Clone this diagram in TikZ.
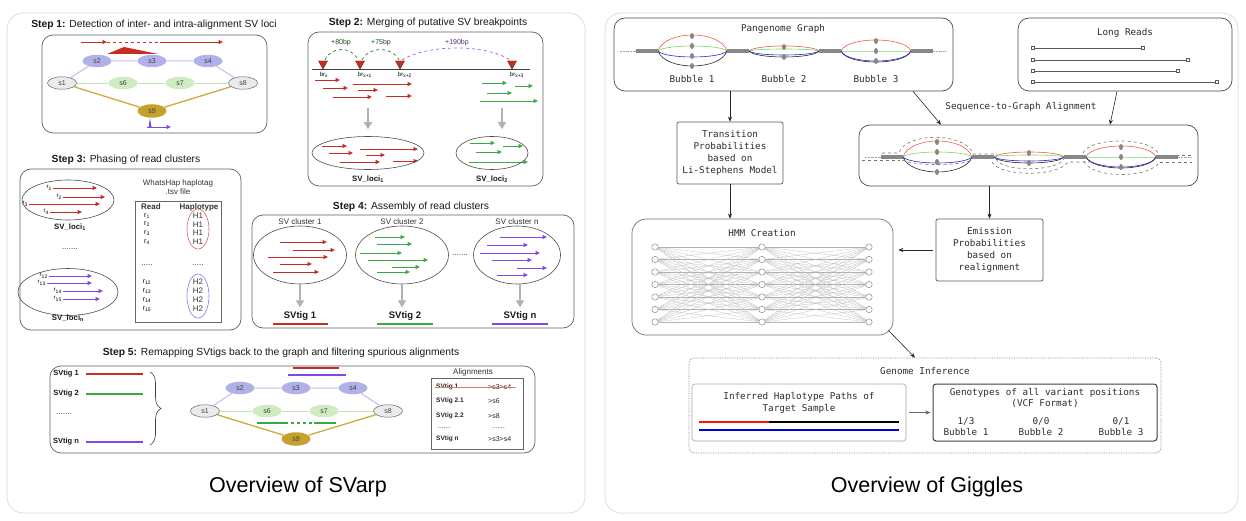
\documentclass[tikz,border=0pt]{standalone}
\usepackage{fontspec}
\setmainfont{Liberation Sans}
\newfontfamily\monof{DejaVu Sans Mono}
\usetikzlibrary{shapes.geometric,arrows.meta,calc,decorations.pathreplacing}
\definecolor{panelgray}{RGB}{226,226,226}
\definecolor{svred}{RGB}{200,45,35}
\definecolor{svgreen}{RGB}{60,168,65}
\definecolor{svpurple}{RGB}{128,72,235}
\definecolor{lav}{RGB}{178,176,232}
\definecolor{lavedge}{RGB}{192,190,238}
\definecolor{lgreen}{RGB}{206,236,192}
\definecolor{lgedge}{RGB}{190,228,175}
\definecolor{gold}{RGB}{198,160,45}
\definecolor{goldedge}{RGB}{208,172,62}
\definecolor{pgred}{RGB}{240,90,70}
\definecolor{pggreen}{RGB}{120,215,100}
\definecolor{pgblue}{RGB}{40,40,210}
\definecolor{segray}{RGB}{135,135,135}
\definecolor{arrgray}{RGB}{178,178,178}
\definecolor{txtdark}{RGB}{45,45,45}
\newcommand\ftitle{\fontsize{10.3}{12}\selectfont}
\newcommand\fnode{\fontsize{7}{8}\selectfont}
\newcommand\fsm{\fontsize{6.5}{7.5}\selectfont}
\newcommand\fbr{\fontsize{6}{7}\selectfont}
\newcommand\fpl{\fontsize{7}{8}\selectfont}
\newcommand\flab{\fontsize{8}{9.5}\selectfont}
\newcommand\fsvt{\fontsize{9.5}{11}\selectfont}
\newcommand\fsvl{\fontsize{7.8}{9}\selectfont}
\newcommand\fmono{\monof\fontsize{9.3}{12}\selectfont}
\newcommand\fbig{\fontsize{21.5}{25}\selectfont}
\newcommand\bub[7]{%
  \draw[pgred,line width=.6pt] (#1,0) .. controls ({#1+#7},{#3*4/3}) and ({#2-#7},{#3*4/3}) .. (#2,0);
  \draw[pggreen,line width=.6pt] (#1,0) .. controls ({#1+#7},{#4*4/3}) and ({#2-#7},{#4*4/3}) .. (#2,0);
  \draw[black!85,line width=.6pt] (#1,0) .. controls ({#1+#7},{#6*4/3}) and ({#2-#7},{#6*4/3}) .. (#2,0);
  \draw[pgblue,line width=.6pt] (#1,0) .. controls ({#1+#7},{#5*4/3}) and ({#2-#7},{#5*4/3}) .. (#2,0);
}
\newcommand\gdot[2]{\fill[segray] (#1,#2) ellipse (2pt and 3pt);}
\newcommand\pangraph{%
  \draw[black!35,densely dotted,line width=.4pt] (620,0) -- (636,0) (933,0) -- (946,0);
  \bub{658}{727}{-16}{-5}{6}{15}{7}
  \bub{749}{819}{-5}{-2}{4}{6}{6}
  \bub{841}{911}{-11}{0}{10}{11}{6}
  \foreach \a/\b in {636/658,727/749,819/841,911/933} \draw[segray,line width=3.2pt] (\a,0) -- (\b,0);
  \gdot{692}{-15}\gdot{692}{-5}\gdot{692}{5}\gdot{692}{15}
  \gdot{784}{-4}\gdot{784}{6}
  \gdot{876}{-10}\gdot{876}{0}\gdot{876}{10}
}
\begin{document}
\begin{tikzpicture}[x=1pt,y=-1pt,
  panel/.style={draw=panelgray,line width=1pt,rounded corners=16pt},
  stepbox/.style={draw=black!62,line width=0.7pt,rounded corners=11pt,inner sep=0pt},
  ttl/.style={font=\ftitle,inner sep=0pt,text=black!90},
  gn/.style={ellipse,inner sep=0pt,minimum width=29pt,minimum height=12.5pt,font=\fnode,text=black!75},
  gend/.style={gn,fill=black!8,draw=black!60,line width=0.5pt},
  glav/.style={gn,fill=lav},
  ggrn/.style={gn,fill=lgreen},
  ggold/.style={gn,fill=gold,minimum height=13.5pt},
  elav/.style={lavedge,line width=1pt},
  egrn/.style={lgedge,line width=0.9pt},
  egold/.style={goldedge,line width=1.3pt},
  rdar/.style={svred,line width=0.8pt,-{Triangle[length=4.5pt,width=4pt]}},
  grar/.style={svgreen,line width=0.8pt,-{Triangle[length=4.5pt,width=4pt]}},
  puar/.style={svpurple,line width=0.8pt,-{Triangle[length=4.5pt,width=4pt]}},
  bigar/.style={arrgray,line width=2.2pt,-{Triangle[length=7pt,width=8pt]}},
  clus/.style={ellipse,draw=black!70,line width=0.6pt,inner sep=0pt},
  lbl/.style={inner sep=0pt,font=\flab,text=black!80},
  blbl/.style={inner sep=0pt,font=\fsvl\bfseries,text=black!90},
  sm/.style={inner sep=0pt,font=\fsm,text=black!85},
  rbox/.style={draw=black!70,line width=0.7pt,rounded corners=11pt,inner sep=0pt},
  sbox/.style={draw=black!65,line width=0.7pt,rounded corners=2pt,inner sep=0pt,font=\fmono,text=txtdark,align=center},
  mono/.style={inner sep=0pt,font=\fmono,text=txtdark,align=center},
  arr/.style={black!85,line width=0.6pt,-{Stealth[length=5pt,width=4pt]}},
  hmmn/.style={circle,draw=black!55,fill=white,line width=0.4pt,minimum size=6.4pt,inner sep=0pt},
  hmme/.style={black!30,line width=0.2pt}
]
\useasboundingbox (0,0) rectangle (1246,521);
\fill[white] (0,0) rectangle (1246,521);
\draw[panel] (7,13) rectangle (585,513);
\draw[panel] (605,13) rectangle (1238,513);
\node[font=\fbig,inner sep=0pt] (ov1) at (298,487) {Overview of SVarp};
\node[font=\fbig,inner sep=0pt] (ov2) at (927,487) {Overview of Giggles};

% ---------------- Step 1
\node[stepbox,minimum width=225pt,minimum height=98pt] (box1) at (154.5,84) {};
\node[ttl] (t1) at (154,25) {\textbf{Step 1:} Detection of inter- and intra-alignment SV loci};
\node[gend] (a1) at (62,83) {s1};
\node[glav] (a2) at (97,61) {s2};
\node[glav] (a3) at (152,61) {s3};
\node[glav] (a4) at (208,61) {s4};
\node[ggrn] (a6) at (123,83) {s6};
\node[ggrn] (a7) at (180,83) {s7};
\node[gend] (a8) at (243,83) {s8};
\node[ggold] (a9) at (152,111) {s9};
\draw[elav] (a1) -- (a2) (a2) -- (a3) (a3) -- (a4) (a4) -- (a8);
\draw[egrn] (a1) -- (a6) (a6) -- (a7) (a7) -- (a8);
\draw[egold] (a1) -- (a9) (a9) -- (a8);
\draw[rdar] (81,42) -- (107,42);
\draw[svred,line width=0.8pt,dashed] (107,42) -- (160,42);
\draw[rdar] (160,42) -- (223,42);
\fill[svred] (107,54) -- (124,47) -- (158,54) -- cycle;
\fill[svpurple] (148.5,127) -- (150,118) -- (151.5,127) -- cycle;
\draw[puar] (147,127) -- (171,127);

% ---------------- Step 2
\node[stepbox,minimum width=235pt,minimum height=154pt] (box2) at (425.5,109) {};
\node[ttl] (t2) at (428,23) {\textbf{Step 2:} Merging of putative SV breakpoints};
\draw[black!75,line width=0.9pt] (312,69) -- (530,69);
\foreach \x in {323,360,400,512}
  \filldraw[fill=svred,draw=svred!60!black,line width=0.4pt] ({\x-4.5},61) -- ({\x+4.5},61) -- (\x,69) -- cycle;
\node[font=\fbr,inner sep=0pt] (br0) at (324,75) {br\textsubscript{x}};
\node[font=\fbr,inner sep=0pt] (br1) at (365,75) {br\textsubscript{x+1}};
\node[font=\fbr,inner sep=0pt] (br2) at (405,75) {br\textsubscript{x+2}};
\node[font=\fbr,inner sep=0pt] (br3) at (517,75) {br\textsubscript{x+3}};
\draw[svgreen!75!black,dashed,line width=0.7pt] (325,60) .. controls (331,46) and (352,46) .. (358,60);
\draw[svgreen!75!black,dashed,line width=0.7pt] (362,60) .. controls (369,46) and (392,46) .. (399,60);
\draw[svpurple!85,dashed,line width=0.7pt] (402,60) .. controls (428,44) and (486,44) .. (510,60);
\node[inner sep=0pt,font=\fpl,text=svgreen!45!black] (l80) at (341,43) {+80bp};
\node[inner sep=0pt,font=\fpl,text=svgreen!45!black] (l75) at (381,43) {+75bp};
\node[inner sep=0pt,font=\fpl,text=svpurple!60!black] (l190) at (457,43) {+190bp};
\foreach \a/\b/\y in {315/340/80,323/348/88,333/372/97,353/412/84,358/378/90,386/412/96,322/347/146,329/353/153,340/380/162,360/418/149,366/385/155,393/418/161}
  \draw[rdar] (\a,\y) -- (\b,\y);
\foreach \a/\b/\y in {482/507/83,515/533/86,487/512/93,480/538/101,470/495/143,503/523/146,476/502/152,469/528/162}
  \draw[grar] (\a,\y) -- (\b,\y);
\node[clus,minimum width=112pt,minimum height=33pt] (c2a) at (368,153) {};
\node[clus,minimum width=72pt,minimum height=33pt] (c2b) at (492,153) {};
\coordinate (g2a) at (368,108);
\coordinate (g2b) at (502,108);
\draw[bigar,shorten >=7pt] (g2a) -- (g2a |- c2a.north);
\draw[bigar,shorten >=7pt] (g2b) -- (g2b |- c2b.north);
\node[blbl] (sl1) at (368,179) {SV\_loci\textsubscript{1}};
\node[blbl] (sl2) at (492,179) {SV\_loci\textsubscript{2}};

% ---------------- Step 3
\node[stepbox,minimum width=221pt,minimum height=161pt] (box3) at (130.5,249.5) {};
\node[ttl] (t3) at (126,160) {\textbf{Step 3:} Phasing of read clusters};
\node[clus,minimum width=92pt,minimum height=40pt] (c3a) at (68,200) {};
\foreach \a/\b/\y/\n in {53/97/188/1,63/105/197/2,29/100/204/3,50/82/212/4}{
  \draw[rdar] (\a,\y) -- (\b,\y);
  \node[font=\fbr,inner sep=0pt,anchor=east] (ra\n) at ({\a-1},\y) {r\textsubscript{\n}};}
\node[blbl] (sl3a) at (70,227) {SV\_loci\textsubscript{1}};
\node[lbl] (dots3) at (70,249) {.......};
\node[clus,minimum width=100pt,minimum height=47pt] (c3b) at (68,292) {};
\foreach \a/\b/\y/\n in {49/92/276/12,47/92/283/13,63/103/291/14,63/100/299/15}{
  \draw[puar] (\a,\y) -- (\b,\y);
  \node[font=\fbr,inner sep=0pt,anchor=east] (ra\n) at ({\a-1},\y) {r\textsubscript{\n}};}
\node[blbl] (sl3b) at (68,318) {SV\_loci\textsubscript{n}};
\node[lbl,align=center] (wh) at (178,187) {WhatsHap haplotag\\.tsv file};
\node[draw=black!60,line width=0.8pt,minimum width=86pt,minimum height=121pt,inner sep=0pt] (tab) at (178,261.5) {};
\node[lbl,font=\flab\bfseries] (hr) at (151,207) {Read};
\node[lbl,font=\flab\bfseries] (hh) at (199,207) {Haplotype};
\foreach \y/\n in {216/1,224.5/2,233/3,242/4}{
  \node[font=\fpl,inner sep=0pt] (tr\n) at (147,\y) {r\textsubscript{\n}};
  \node[lbl] (th\n) at (198,\y) {H1};}
\node[lbl] (td1) at (147,265) {.....};
\node[lbl] (td2) at (198,265) {.....};
\foreach \y/\n in {282/12,291/13,300/14,309/15}{
  \node[font=\fpl,inner sep=0pt] (tr\n) at (147,\y) {r\textsubscript{\n}};
  \node[lbl] (th\n) at (198,\y) {H2};}
\node[ellipse,draw=svred!75,line width=0.6pt,minimum width=22pt,minimum height=40pt,inner sep=0pt] (hg1) at (198,229) {};
\node[ellipse,draw=svpurple!80,line width=0.6pt,minimum width=22pt,minimum height=44pt,inner sep=0pt] (hg2) at (198,296) {};

% ---------------- Step 4
\node[stepbox,minimum width=322pt,minimum height=113pt] (box4) at (413,271.5) {};
\node[ttl] (t4) at (411,207) {\textbf{Step 4:} Assembly of read clusters};
\node[lbl] (k1) at (300,222) {SV cluster 1};
\node[lbl] (k2) at (402,222) {SV cluster 2};
\node[lbl] (k3) at (517,222) {SV cluster n};
\node[clus,minimum width=93pt,minimum height=58pt] (c41) at (300,255) {};
\node[clus,minimum width=93pt,minimum height=58pt] (c42) at (402,255) {};
\node[clus,minimum width=87pt,minimum height=58pt] (c43) at (517,255) {};
\node[lbl] (dots4) at (460,255) {.......};
\foreach \a/\b/\y in {280/327/242,293/335/250,268/328/257,280/312/264,273/319/272}
  \draw[rdar] (\a,\y) -- (\b,\y);
\foreach \a/\b/\y in {375/405/237,377/412/244,360/402/253,368/428/260,392/420/267,377/410/272}
  \draw[grar] (\a,\y) -- (\b,\y);
\foreach \a/\b/\y in {500/547/237,487/528/245,480/540/253,492/532/260,517/547/268,497/528/275}
  \draw[puar] (\a,\y) -- (\b,\y);
\node[blbl,font=\fsvt\bfseries] (v1) at (300,316) {SVtig 1};
\node[blbl,font=\fsvt\bfseries] (v2) at (405,316) {SVtig 2};
\node[blbl,font=\fsvt\bfseries] (v3) at (520,316) {SVtig n};
\draw[bigar,shorten >=4pt] (c41.south) -- (v1.north);
\draw[bigar,shorten >=4pt] (c42.south) -- (c42.south |- v2.north);
\draw[bigar,shorten >=4pt] (c43.south -| v3.north) -- (v3.north);
\draw[svred,line width=2.2pt] (273,324) -- (328,324);
\draw[svgreen,line width=2.2pt] (377,324) -- (433,324);
\draw[svpurple,line width=2.2pt] (492,324) -- (548,324);

% ---------------- Step 5
\node[stepbox,minimum width=485pt,minimum height=87pt] (box5) at (292.5,409.5) {};
\node[ttl] (t5) at (281,353) {\textbf{Step 5:} Remapping SVtigs back to the graph and filtering spurious alignments};
\node[blbl,font=\fontsize{7.5}{9}\selectfont\bfseries] (w1) at (66,374) {SVtig 1};
\node[blbl,font=\fontsize{7.5}{9}\selectfont\bfseries] (w2) at (66,394) {SVtig 2};
\node[lbl] (w3) at (64,414) {.......};
\node[blbl,font=\fontsize{7.5}{9}\selectfont\bfseries] (w4) at (66,442) {SVtig n};
\draw[svred,line width=2pt] (86,374) -- (143,374);
\draw[svgreen,line width=2pt] (86,394) -- (143,394);
\draw[svpurple,line width=2pt] (86,442) -- (143,442);
\draw[black!75,line width=0.6pt,decorate,decoration={brace,amplitude=11pt}] (150,372) -- (150,445);
\node[gend] (b1) at (205,411) {s1};
\node[glav] (b2) at (240,388) {s2};
\node[glav] (b3) at (296,388) {s3};
\node[glav] (b4) at (353,388) {s4};
\node[ggrn] (b6) at (267,411) {s6};
\node[ggrn] (b7) at (324,411) {s7};
\node[gend] (b8) at (388,411) {s8};
\node[ggold] (b9) at (296,439) {s9};
\draw[elav] (b1) -- (b2) (b2) -- (b3) (b3) -- (b4) (b4) -- (b8);
\draw[egrn] (b1) -- (b6) (b6) -- (b7) (b7) -- (b8);
\draw[egold] (b1) -- (b9) (b9) -- (b8);
\draw[svred,line width=2pt] (293,368) -- (339,368);
\draw[svpurple,line width=2pt] (288,375) -- (346,375);
\draw[svgreen,line width=1.8pt] (257,423) -- (285,423);
\draw[svgreen,line width=1.8pt,dashed] (285,423) -- (314,423);
\draw[svgreen,line width=1.8pt] (314,423) -- (336,423);
\node[lbl] (alh) at (473,372) {Alignments};
\node[draw=black!60,line width=0.8pt,minimum width=92pt,minimum height=71pt,inner sep=0pt] (alb) at (477,413.5) {};
\foreach \y/\t/\p/\n in {387/SVtig 1/{>s3>s4}/1,401/SVtig 2.1/{>s6}/2,416/SVtig 2.2/{>s8}/3,439/SVtig n/{>s3>s4}/4}{
  \node[sm,font=\fsm\bfseries,anchor=west] (aq\n) at (436,\y) {\t};
  \node[sm,font=\fpl,anchor=west] (ap\n) at (488,\y) {\p};}
\node[sm,anchor=west] (aq5) at (438,428) {.......};
\node[sm,anchor=west] (ap5) at (492,428) {.......};
\draw[svred!65,line width=0.8pt] (435,387.5) -- (516,387.5);

% ---------------- Right panel
\node[rbox,minimum width=339pt,minimum height=73pt] (pg) at (783.5,54.5) {};
\node[mono] (pgt) at (783,29) {Pangenome Graph};
\begin{scope}[shift={(0,51)}]
  \pangraph
\end{scope}
\node[mono] (bb1) at (692,79) {Bubble 1};
\node[mono] (bb2) at (784,79) {Bubble 2};
\node[mono] (bb3) at (876,79) {Bubble 3};

\node[rbox,minimum width=214pt,minimum height=73pt] (lr) at (1125,54.5) {};
\node[mono] (lrt) at (1125,33) {Long Reads};
\foreach \y/\e in {48/1143,60/1188,71/1178,82/1217}{
  \draw[black!65,line width=0.7pt] (1033,\y) -- (\e,\y);
  \draw[black!65,line width=0.5pt,fill=white] (1031.5,{\y-1.5}) rectangle (1034.5,{\y+1.5});
  \draw[black!65,line width=0.5pt,fill=white] ({\e-1.5},{\y-1.5}) rectangle ({\e+1.5},{\y+1.5});}

\node[sbox,minimum width=106pt,minimum height=62pt] (tp) at (730,153) {Transition\\Probabilities\\based on\\Li-Stephens Model};
\node[rbox,minimum width=339pt,minimum height=61pt] (al) at (1028.5,155.5) {};
\begin{scope}[shift={(0,157)},black!55,dashed,line width=0.6pt]
  \draw (882,-4) -- (899,-4) .. controls (905,-25) and (966,-25) .. (973,-3) -- (997,-3);
  \draw (862,3) -- (900,3);
  \draw (902,3) .. controls (912,9) and (962,9) .. (972,3);
  \draw (996,2) .. controls (1002,15) and (1057,15) .. (1064,2);
  \draw (992,5) .. controls (1000,20) and (1058,20) .. (1068,5) -- (1090,5);
  \draw (1083,-4) .. controls (1090,-20) and (1150,-20) .. (1158,-4);
  \draw (1084,4) .. controls (1090,22) and (1152,22) .. (1160,4);
  \draw (1158,-2) -- (1192,-2);
  \draw (1160,5) -- (1192,5);
\end{scope}
\begin{scope}[shift={(245,157)}]
  \pangraph
\end{scope}
\node[mono] (sga) at (1021,107) {Sequence-to-Graph Alignment};
\node[sbox,minimum width=107pt,minimum height=62pt] (em) at (989.5,250) {Emission\\Probabilities\\based on\\realignment};

\node[rbox,draw=black!55,rounded corners=14pt,minimum width=261pt,minimum height=116pt] (hmm) at (762.5,277) {};
\node[mono] (hmmt) at (762,233) {HMM Creation};
\foreach \c/\x in {1/655,2/762,3/869}
  \foreach \r in {0,...,6}
    \node[hmmn] (h\c\r) at (\x,{247+12.5*\r}) {};
\foreach \r in {0,...,6}
  \foreach \s in {0,...,6}
    \draw[hmme] (h1\r) -- (h2\s) (h2\r) -- (h3\s);

\node[draw=black!50,densely dotted,line width=0.7pt,rounded corners=5pt,minimum width=472pt,minimum height=95pt,inner sep=0pt] (gi) at (925,405.5) {};
\node[mono] (git) at (925,371) {Genome Inference};
\node[draw=black!35,line width=0.6pt,rounded corners=3pt,minimum width=214pt,minimum height=57pt,inner sep=0pt] (ih) at (799,412.5) {};
\node[mono] (iht) at (799,403) {Inferred Haplotype Paths of\\Target Sample};
\draw[red!85!orange,line width=1.8pt] (699,422) -- (769,422);
\draw[black,line width=1.8pt] (769,422) -- (899,422);
\draw[blue!90!black,line width=1.8pt] (699,430) -- (899,430);
\node[draw=black!75,line width=1pt,rounded corners=3pt,minimum width=224pt,minimum height=57pt,inner sep=0pt] (gt) at (1045,412.5) {};
\node[mono,font=\monof\fontsize{9.3}{10.5}\selectfont] (gtt) at (1045,398) {Genotypes of all variant positions\\(VCF Format)};
\node[mono,font=\monof\fontsize{9.3}{11}\selectfont] (gq1) at (966,426.5) {1/3\\Bubble 1};
\node[mono,font=\monof\fontsize{9.3}{11}\selectfont] (gq2) at (1041,426.5) {0/0\\Bubble 2};
\node[mono,font=\monof\fontsize{9.3}{11}\selectfont] (gq3) at (1121,426.5) {0/1\\Bubble 3};

% arrows
\draw[arr] (pg.south -| tp.north) -- (tp.north);
\draw[arr] ([xshift=129.5pt]pg.south) -- ([xshift=-87.5pt]al.north);
\draw[arr] ([xshift=-8pt]lr.south) -- ([xshift=81.5pt]al.north);
\draw[arr] (al.south -| em.north) -- (em.north);
\draw[arr,shorten <=3pt,shorten >=5pt] (em.west) -- (em.west -| hmm.east);
\draw[arr] (tp.south) -- (tp.south |- hmm.north);
\draw[arr] ([shift={(-5,-5)}]hmm.south east) -- ([xshift=-10pt]gi.north);
\draw[arr,black!60,shorten <=3pt,shorten >=2pt] (ih.east) -- (gt.west);
\end{tikzpicture}
\end{document}
